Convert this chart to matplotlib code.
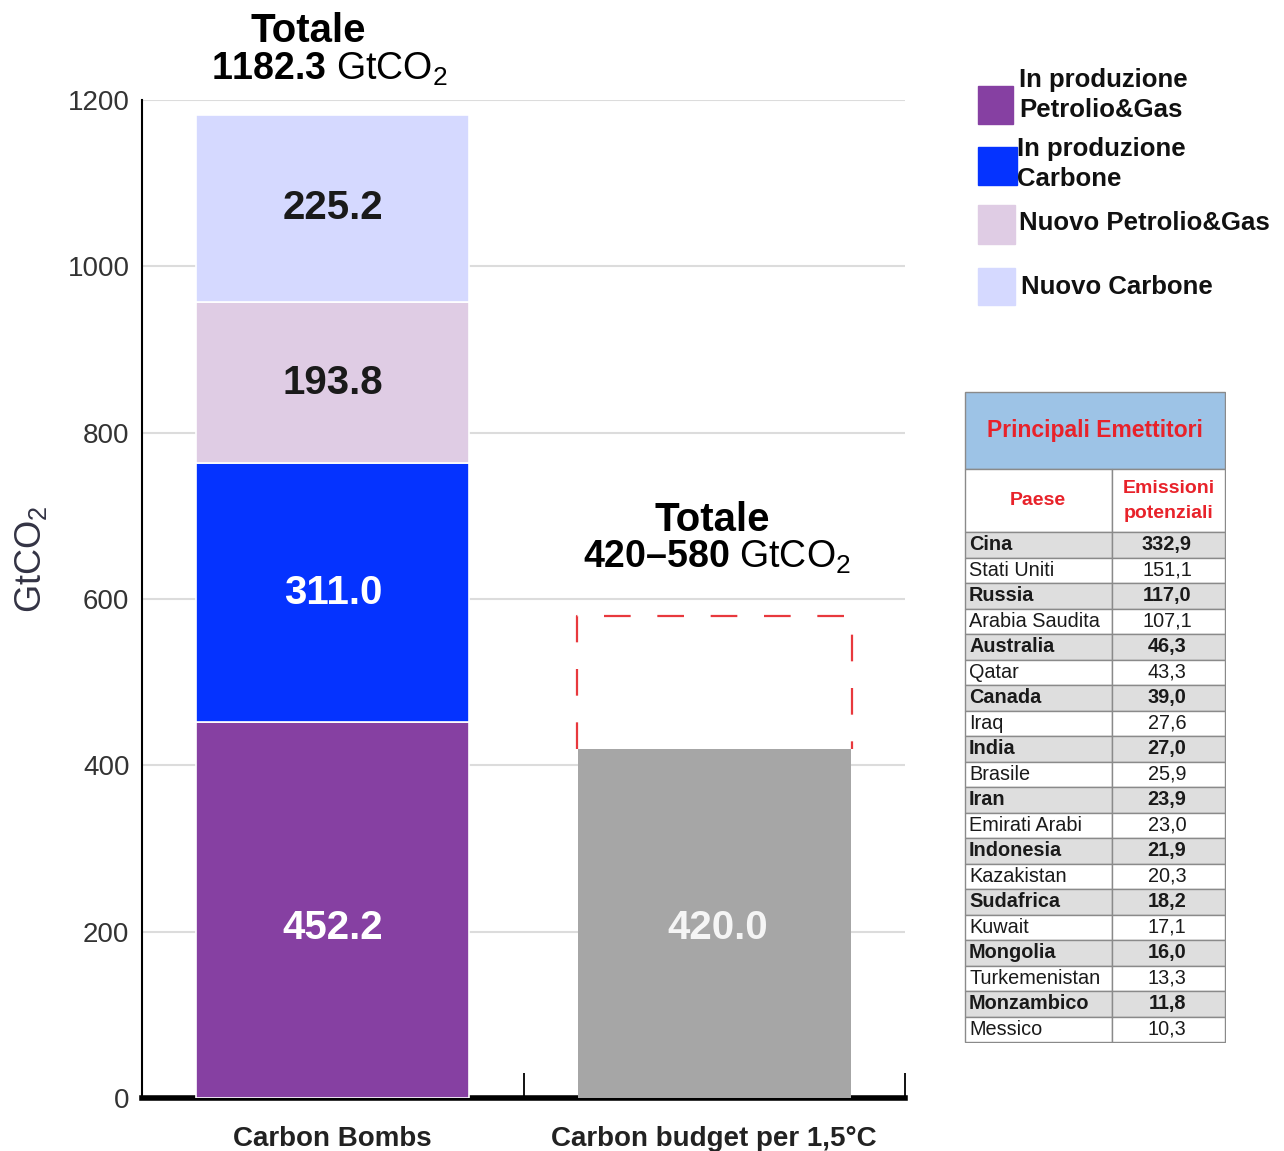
import numpy as np
import matplotlib
matplotlib.use('Agg')
import matplotlib.pyplot as plt
from matplotlib.patches import Rectangle

plt.rcParams['font.family'] = ['Liberation Sans', 'DejaVu Sans']
plt.rcParams['mathtext.fontset'] = 'custom'
plt.rcParams['mathtext.rm'] = 'Liberation Sans'
plt.rcParams['mathtext.bf'] = 'Liberation Sans:bold'

# --- data ---
categories = ['Carbon Bombs', 'Carbon budget per 1,5°C']
segment_names = ['In produzione\nPetrolio&Gas', 'In produzione\nCarbone',
                 'Nuovo Petrolio&Gas', 'Nuovo Carbone']
segment_values = [452.2, 311.0, 193.8, 225.2]
segment_colors = ['#8640A2', '#0533FF', '#DFCCE4', '#D5D9FF']
segment_text_colors = ['white', 'white', '#1a1a1a', '#1a1a1a']
budget_low = 420.0
budget_high = 580.0
total_bombs = 1182.3

paesi = ['Cina', 'Stati Uniti', 'Russia', 'Arabia Saudita', 'Australia', 'Qatar',
         'Canada', 'Iraq', 'India', 'Brasile', 'Iran', 'Emirati Arabi', 'Indonesia',
         'Kazakistan', 'Sudafrica', 'Kuwait', 'Mongolia', 'Turkemenistan',
         'Monzambico', 'Messico']
emissioni = [332.9, 151.1, 117.0, 107.1, 46.3, 43.3, 39.0, 27.6, 27.0, 25.9,
             23.9, 23.0, 21.9, 20.3, 18.2, 17.1, 16.0, 13.3, 11.8, 10.3]

W, H = 1284, 1151
fig = plt.figure(figsize=(W / 100, H / 100), dpi=100)

# overlay axes in pixel coordinates for the legend
ov = fig.add_axes([0, 0, 1, 1])
ov.set_xlim(0, W)
ov.set_ylim(H, 0)
ov.axis('off')

ax = fig.add_axes([142 / W, 1 - 1098 / H, 763 / W, 998 / H])
ax.set_xlim(0, 2)
ax.set_ylim(0, 1200)

bar_w = 0.715
bottoms = np.concatenate([[0], np.cumsum(segment_values)[:-1]])
for val, bot, col, tcol in zip(segment_values, bottoms, segment_colors, segment_text_colors):
    ax.bar(0.5, val, bottom=bot, width=bar_w, color=col, edgecolor='white', linewidth=1.2, zorder=3)
    ly = bot + val / 2 if bot > 0 else 204
    ax.text(0.5, ly, f'{val:.1f}', ha='center', va='center', fontsize=29,
            fontweight='bold', color=tcol, zorder=4)

# dashed outline for the upper end of the budget range (three sides)
x_l, x_r = 1.5 - bar_w / 2 - 0.003, 1.5 + bar_w / 2 + 0.003
ax.plot([x_l, x_l, x_r, x_r], [budget_low, budget_high, budget_high, budget_low],
        color='#E8383D', linewidth=1.6, linestyle=(0, (12, 12)), zorder=2)
ax.bar(1.5, budget_low, width=bar_w, color='#A6A6A6', zorder=3)
ax.text(1.51, 204, f'{budget_low:.1f}', ha='center', va='center', fontsize=29,
        fontweight='bold', color='#F5F5F5', zorder=4)

# totals
ax.text(0.435, total_bombs + 101, 'Totale', ha='center', va='center', fontsize=29,
        fontweight='bold', clip_on=False)
ax.text(0.49, total_bombs + 55, r'$\mathbf{%.1f}$ GtCO$_2$' % total_bombs, ha='center',
        va='center', fontsize=27, clip_on=False)
ax.text(1.494, budget_high + 115, 'Totale', ha='center', va='center', fontsize=29,
        fontweight='bold', clip_on=False)
ax.text(1.507, budget_high + 70, r'$\mathbf{%d–%d}$ GtCO$_2$' % (budget_low, budget_high),
        ha='center', va='center', fontsize=27, clip_on=False)

# axes styling
ax.yaxis.grid(True, color='#DCDCDC', linewidth=1.5)
ax.set_axisbelow(True)
for s in ['top', 'right']:
    ax.spines[s].set_visible(False)
ax.spines['bottom'].set_linewidth(4)
ax.spines['left'].set_linewidth(1.5)
ax.set_yticks(np.arange(0, 1201, 200))
ax.tick_params(axis='y', length=0, pad=9, labelsize=20, labelcolor='#333333')
ax.set_xticks([0.5, 1.5])
ax.set_xticklabels(categories, fontsize=20, fontweight='bold', color='#222222')
ax.tick_params(axis='x', which='major', length=0, pad=20)
ax.set_xticks([1, 2], minor=True)
ax.tick_params(axis='x', which='minor', direction='in', length=18, width=1.3, color='black')
ax.set_ylabel('GtCO$_2$', fontsize=26, color='#333344')
ax.yaxis.set_label_coords(-0.122, 0.54)

# legend
legend_boxes = [(978, 86, 35, 38), (978, 147, 39, 38), (978, 205, 37, 39), (978, 268, 37, 37)]
legend_text_pos = [(1019, [80, 110]), (1017, [149, 179]), (1019, [223]), (1021, [287])]
for name, col, box, (tx, tys) in zip(segment_names, segment_colors, legend_boxes, legend_text_pos):
    x0, y0, bw, bh = box
    ov.add_patch(Rectangle((x0, y0), bw, bh, color=col))
    for line, ty in zip(name.split('\n'), tys):
        ov.text(tx, ty, line, ha='left', va='center', fontsize=18.5, fontweight='bold',
                color='#111111')

# table
tb = fig.add_axes([964 / W, 1 - 1043 / H, 262 / W, 652 / H])
tb.set_xlim(-1, 261)
tb.set_ylim(651, -1)
tb.axis('off')
edge = '#8A8A8A'
red = '#E8222A'
tb.add_patch(Rectangle((0, 0), 260, 77, facecolor='#9DC3E6', edgecolor=edge, linewidth=1))
tb.text(130, 38.5, 'Principali Emettitori', ha='center', va='center', fontsize=16.5,
        fontweight='bold', color=red)
tb.add_patch(Rectangle((0, 77), 147, 63, facecolor='white', edgecolor=edge, linewidth=1))
tb.add_patch(Rectangle((147, 77), 113, 63, facecolor='white', edgecolor=edge, linewidth=1))
tb.text(73, 108.5, 'Paese', ha='center', va='center', fontsize=14, fontweight='bold', color=red)
tb.text(203.5, 96, 'Emissioni', ha='center', va='center', fontsize=14, fontweight='bold', color=red)
tb.text(203.5, 121, 'potenziali', ha='center', va='center', fontsize=14, fontweight='bold', color=red)
row_h = 25.5
for i, (p, e) in enumerate(zip(paesi, emissioni)):
    y0 = 140 + i * row_h
    fc = '#DEDEDE' if i % 2 == 0 else 'white'
    fw = 'bold' if i % 2 == 0 else 'normal'
    tb.add_patch(Rectangle((0, y0), 147, row_h, facecolor=fc, edgecolor=edge, linewidth=1))
    tb.add_patch(Rectangle((147, y0), 113, row_h, facecolor=fc, edgecolor=edge, linewidth=1))
    tb.text(4, y0 + row_h / 2, p, ha='left', va='center', fontsize=14.3, fontweight=fw,
            color='#1a1a1a')
    tb.text(202, y0 + row_h / 2, f'{e:.1f}'.replace('.', ','), ha='center', va='center',
            fontsize=14.3, fontweight=fw, color='#1a1a1a')

fig.savefig('out.png', dpi=100)
plt.close(fig)
